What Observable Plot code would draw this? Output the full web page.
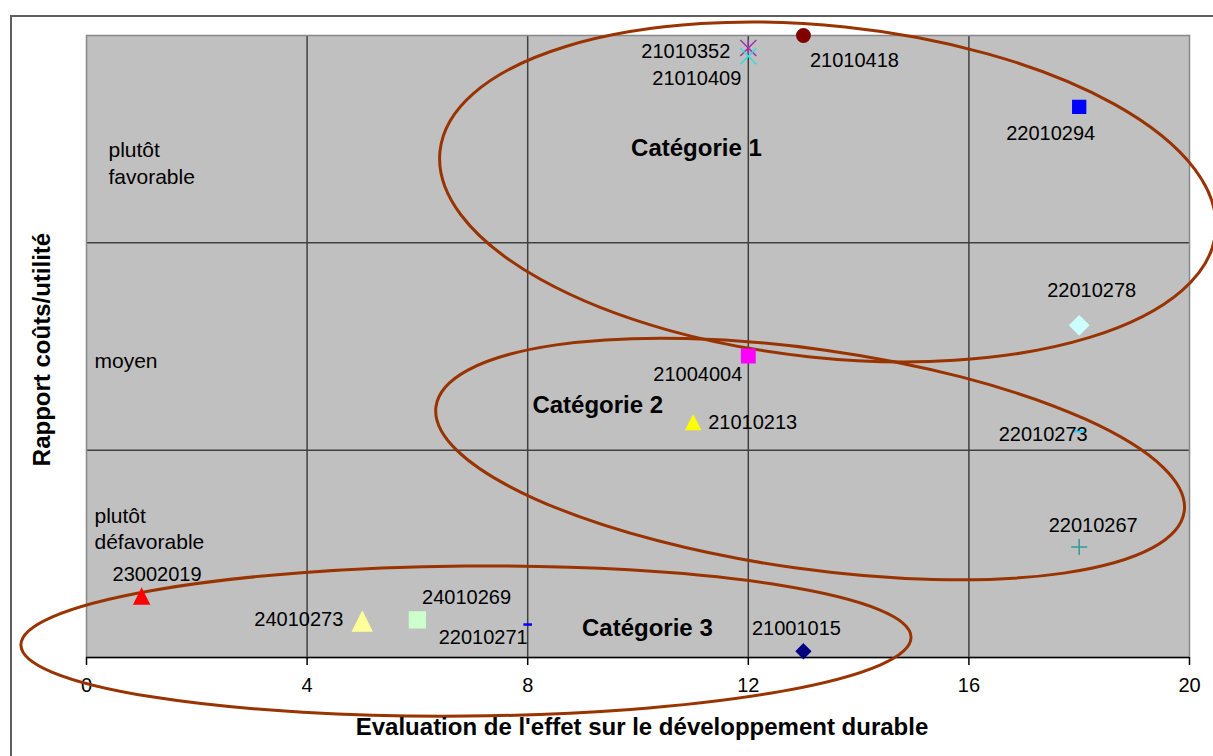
<!DOCTYPE html>
<html><head><meta charset="utf-8">
<script src="https://cdn.jsdelivr.net/npm/d3@7"></script>
<script src="https://cdn.jsdelivr.net/npm/@observablehq/plot@0.6"></script>
<style>
html,body{margin:0;padding:0;background:#fff;overflow:hidden;}
#wrap{position:relative;width:1213px;height:756px;}
#wrap svg{position:absolute;left:0;top:0;}
#border{position:absolute;left:10px;top:15px;width:1240px;height:780px;border-left:2px solid #5f5f5f;border-top:2px solid #5f5f5f;pointer-events:none;z-index:2;}
</style></head><body>
<div id="wrap"><div id="border"></div></div>
<script>
// ---- data ----
const projectIds   = ["21010418","21010352","21010409","22010294","22010278","21004004","21010213","22010273","22010267","23002019","24010273","24010269","22010271","21001015"];
const effetDD      = [13, 12, 12, 18, 18, 12, 11, 18, 18, 1, 5, 6, 8, 13];
const coutsUtilite = [3.0, 2.94, 2.90, 2.656, 1.602, 1.454, 1.133, 1.091, 0.533, 0.294, 0.174, 0.181, 0.159, 0.03];
const xTicks = [0, 4, 8, 12, 16, 20];
const bandLabels = ["plutôt\nfavorable", "moyen", "plutôt\ndéfavorable"];
const bandMids = [2.5, 1.5, 0.5];
const bandLines = [1, 2];
const categoryNames = ["Catégorie 1", "Catégorie 2", "Catégorie 3"];
const categoryCx = [13.45, 13.13, 6.89];
const categoryCy = [2.243, 0.955, 0.077];
const categoryRx = [7.07, 6.85, 8.07];
const categoryRy = [0.80, 0.53, 0.362];
const categoryAngle = [6, 8, -0.5];
const categoryLabelX = [11.06, 9.27, 10.17];
const categoryLabelY = [2.455, 1.215, 0.14];
const xTitle = "Evaluation de l'effet sur le développement durable";
const yTitle = "Rapport coûts/utilité";

// ---- styles ----
const FONT = "Liberation Sans, Arial, sans-serif";
const half = s => Math.sqrt(s / Math.PI);
const sym = {
  circle:   {draw(c, s){const h = half(s); c.moveTo(h, 0); c.arc(0, 0, h, 0, 2 * Math.PI);}},
  square:   {draw(c, s){const h = half(s); c.rect(-h, -h, 2 * h, 2 * h);}},
  diamond:  {draw(c, s){const h = half(s); c.moveTo(0, -h); c.lineTo(h, 0); c.lineTo(0, h); c.lineTo(-h, 0); c.closePath();}},
  triangle: {draw(c, s){const h = half(s); c.moveTo(0, -h); c.lineTo(h, h); c.lineTo(-h, h); c.closePath();}},
  star:     {draw(c, s){const h = half(s); c.moveTo(-h, -h); c.lineTo(h, h); c.moveTo(-h, h); c.lineTo(h, -h); c.moveTo(0, -h); c.lineTo(0, h);}},
  x:        {draw(c, s){const h = half(s); c.moveTo(-h, -h); c.lineTo(h, h); c.moveTo(-h, h); c.lineTo(h, -h);}},
  plus:     {draw(c, s){const h = half(s); c.moveTo(-h, 0); c.lineTo(h, 0); c.moveTo(0, -h); c.lineTo(0, h);}},
  dash:     {draw(c, s){const h = half(s); c.moveTo(-h, 0); c.lineTo(h, 0);}}
};
const markerStyle = {
  "21010418": {symbol: "circle",   fill: "#800000", r: 6.7},
  "21010352": {symbol: "star",     stroke: "#9933aa", r: 8},
  "21010409": {symbol: "x",        stroke: "#33dddd", r: 8},
  "22010294": {symbol: "square",   fill: "#0000ff", r: 6.4},
  "22010278": {symbol: "diamond",  fill: "#ccffff", r: 9.3},
  "21004004": {symbol: "square",   fill: "#ff00ff", r: 6.7},
  "21010213": {symbol: "triangle", fill: "#ffff00", r: 7},
  "22010273": {symbol: "dash",     stroke: "#33ccff", r: 5, sw: 2.5},
  "22010267": {symbol: "plus",     stroke: "#339999", r: 8},
  "23002019": {symbol: "triangle", fill: "#ff0000", r: 7.5},
  "24010273": {symbol: "triangle", fill: "#ffff99", r: 9.5},
  "24010269": {symbol: "square",   fill: "#ccffcc", r: 7.9},
  "22010271": {symbol: "dash",     stroke: "#0000ff", r: 4.3, sw: 2.5},
  "21001015": {symbol: "diamond",  fill: "#000080", r: 7.1}
};
const labelLayout = {
  "21010418": [51, 25, "middle"],
  "21010352": [-18, 4, "end"],
  "21010409": [-7, 22.5, "end"],
  "22010294": [-28.5, 26.5, "middle"],
  "22010278": [12.5, -35, "middle"],
  "21004004": [-6, 19, "end"],
  "21010213": [15, 0.5, "start"],
  "22010273": [-36, 3.5, "middle"],
  "22010267": [14, -21.7, "middle"],
  "23002019": [15.4, -22.3, "middle"],
  "24010273": [-19, -2, "end"],
  "24010269": [4.7, -22, "start"],
  "22010271": [0, 13.5, "end"],
  "21001015": [-7, -23, "middle"]
};
const bandLayout = [[22, 23], [8, 13], [8, -26]];

const points = projectIds.map((id, i) => ({id, x: effetDD[i], y: coutsUtilite[i]}));

function ellipses(index, scales) {
  const g = d3.create("svg:g");
  categoryNames.forEach((n, i) => {
    const cx = scales.x(categoryCx[i]), cy = scales.y(categoryCy[i]);
    const rx = scales.x(categoryCx[i] + categoryRx[i]) - cx;
    const ry = cy - scales.y(categoryCy[i] + categoryRy[i]);
    g.append("ellipse").attr("cx", cx).attr("cy", cy).attr("rx", rx).attr("ry", ry)
      .attr("transform", `rotate(${categoryAngle[i]} ${cx} ${cy})`)
      .attr("fill", "none").attr("stroke", "#993300").attr("stroke-width", 3);
  });
  return g.node();
}

const marks = [
  Plot.frame({fill: "#c0c0c0", stroke: "none"}),
  Plot.ruleX(xTicks.filter(d => d > 0 && d < 20), {stroke: "#404040", strokeWidth: 1.5}),
  Plot.ruleY(bandLines, {stroke: "#404040", strokeWidth: 1.5}),
  Plot.frame({stroke: "#888888", strokeWidth: 1.5}),
  Plot.ruleY([0], {stroke: "#000", strokeWidth: 1.5}),
  Plot.axisX({ticks: xTicks, tickSize: 8, tickPadding: 12, fontSize: 20, tickFormat: d => String(d), stroke: "#000", strokeWidth: 1.5, label: null}),
  ...bandLabels.map((t, i) => Plot.text([t], {x: 0, y: bandMids[i], text: d => d, textAnchor: "start", dx: bandLayout[i][0], dy: bandLayout[i][1], fontSize: 21, lineHeight: 1.25, fill: "#000"})),
  ellipses,
  ...points.map(p => {
    const st = markerStyle[p.id];
    return Plot.dot([p], {x: "x", y: "y", symbol: sym[st.symbol], r: st.r,
      fill: st.fill ?? "none", stroke: st.stroke ?? st.fill, strokeWidth: st.sw ?? 1.5});
  }),
  ...points.map(p => {
    const [dx, dy, anchor] = labelLayout[p.id];
    return Plot.text([p], {x: "x", y: "y", text: "id", dx, dy, textAnchor: anchor, fontSize: 20, fill: "#000"});
  }),
  ...categoryNames.map((n, i) => Plot.text([n], {x: categoryLabelX[i], y: categoryLabelY[i], text: d => d, fontSize: 24, fontWeight: "bold", fill: "#000"})),
  Plot.text([xTitle], {frameAnchor: "bottom", text: d => d, textAnchor: "middle", dx: 4, dy: 77, fontSize: 24, fontWeight: "bold", fill: "#000"}),
  Plot.text([yTitle], {frameAnchor: "left", text: d => d, textAnchor: "middle", dx: -44, dy: 3, rotate: -90, fontSize: 24, fontWeight: "bold", fill: "#000"})
];

const chart = Plot.plot({
  width: 1213, height: 756,
  marginLeft: 86, marginRight: 24, marginTop: 35, marginBottom: 99,
  x: {domain: [0, 20]},
  y: {domain: [0, 3], axis: null},
  style: {fontFamily: FONT, background: "transparent", overflow: "visible", color: "#000"},
  marks
});
document.getElementById("wrap").appendChild(chart);
</script>
</body></html>
